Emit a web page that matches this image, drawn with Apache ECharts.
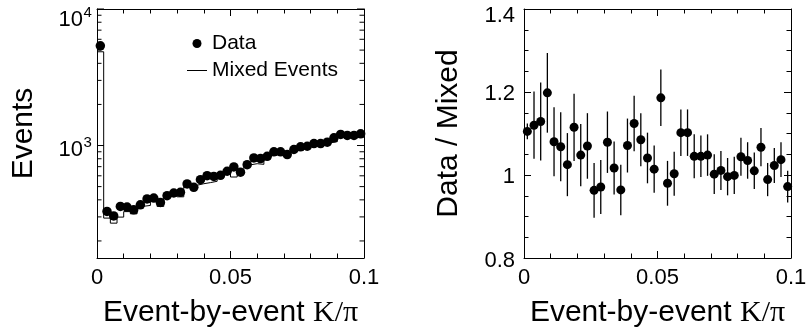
<!DOCTYPE html>
<html>
<head>
<meta charset="utf-8">
<script src="https://cdn.jsdelivr.net/npm/echarts@6/dist/echarts.min.js"></script>
<style>
  html, body { margin: 0; padding: 0; background: #fff; }
  #chart { width: 809px; height: 329px; }
</style>
</head>
<body>
<div id="chart"></div>
<script>
// Bin centres of the event-by-event K/pi histogram (bin width 0.0025)
const binCenters = [
  0.00125, 0.00375, 0.00625, 0.00875, 0.01125, 0.01375, 0.01625, 0.01875,
  0.02125, 0.02375, 0.02625, 0.02875, 0.03125, 0.03375, 0.03625, 0.03875,
  0.04125, 0.04375, 0.04625, 0.04875, 0.05125, 0.05375, 0.05625, 0.05875,
  0.06125, 0.06375, 0.06625, 0.06875, 0.07125, 0.07375, 0.07625, 0.07875,
  0.08125, 0.08375, 0.08625, 0.08875, 0.09125, 0.09375, 0.09625, 0.09875
];

// Real events per bin
const dataCounts = [
  5370, 329, 305, 358, 354, 338, 368, 406, 412, 383,
  429, 449, 454, 523, 494, 562, 601, 594, 605, 648,
  697, 637, 724, 811, 802, 834, 899, 899, 859, 935,
  978, 988, 1034, 1034, 1058, 1139, 1205, 1185, 1185, 1219
];

// Mixed-event reference per bin
const mixedCounts = [
  4860, 294, 270, 299, 328, 316, 359, 364, 393, 358,
  445, 462, 421, 514, 512, 525, 535, 547, 581, 639,
  588, 650, 722, 736, 728, 798, 860, 858, 857, 925,
  982, 989, 990, 999, 1048, 1067, 1218, 1158, 1143, 1254
];

// Data / Mixed ratio and its statistical uncertainty
const ratio = [
  1.105, 1.120, 1.129, 1.198, 1.080, 1.068, 1.025, 1.115, 1.048, 1.070,
  0.963, 0.971, 1.079, 1.017, 0.964, 1.071, 1.124, 1.085, 1.041, 1.014,
  1.186, 0.980, 1.003, 1.102, 1.102, 1.045, 1.045, 1.048, 1.002, 1.011,
  0.996, 0.999, 1.044, 1.035, 1.010, 1.067, 0.989, 1.023, 1.037, 0.972
];
const ratioErr = [
  0.019, 0.081, 0.094, 0.096, 0.083, 0.083, 0.076, 0.081, 0.075, 0.079,
  0.066, 0.065, 0.074, 0.064, 0.061, 0.065, 0.067, 0.064, 0.061, 0.057,
  0.068, 0.054, 0.053, 0.056, 0.056, 0.053, 0.050, 0.050, 0.048, 0.047,
  0.045, 0.045, 0.046, 0.044, 0.044, 0.046, 0.040, 0.042, 0.042, 0.038
];

// Axis ranges and labelled ticks
const xRange = [0, 0.1];
const xTickStep = 0.05;
const countRange = [150, 10000];
const countLabels = [1000, 10000];
const ratioRange = [0.8, 1.4];
const ratioTickStep = 0.2;

const SANS = '"Liberation Sans", Arial, Helvetica, sans-serif';
const SERIF = '"Liberation Serif", "Times New Roman", serif';

// Log-axis tick positions: 2..9 x 10^k minors plus the decades themselves
const logTicks = [];
for (let d = 100; d <= countRange[1]; d *= 10) {
  for (let k = 1; k <= 9; k++) {
    const v = k * d;
    if (v >= countRange[0] && v <= countRange[1]) logTicks.push({ v, major: k === 1 });
  }
}

const halfBin = (binCenters[1] - binCenters[0]) / 2;
const histLine = binCenters.map((c, i) => [c - halfBin, mixedCounts[i]]);
histLine.push([binCenters[binCenters.length - 1] + halfBin, mixedCounts[mixedCounts.length - 1]]);

const xTitle = {
  name: '{a|Event-by-event }{b|K/\u03c0}',
  nameLocation: 'middle',
  nameGap: 40,
  nameTextStyle: {
    color: '#000',
    rich: {
      a: { fontSize: 30, fontFamily: SANS, color: '#000' },
      b: { fontSize: 30, fontFamily: SERIF, color: '#000' }
    }
  }
};

function xAxisPair(gridIndex) {
  const common = {
    type: 'value', gridIndex, min: xRange[0], max: xRange[1], interval: xTickStep,
    axisLine: { show: true, onZero: false, lineStyle: { color: '#000', width: 1 } },
    axisTick: { show: true, inside: true, length: 7, lineStyle: { color: '#000', width: 1 } },
    minorTick: { show: true, splitNumber: 5, length: 4.5, lineStyle: { color: '#000', width: 1 } },
    splitLine: { show: false }
  };
  return [
    Object.assign({}, common, xTitle, {
      position: 'bottom',
      axisLabel: { show: true, fontSize: 22, fontFamily: SANS, color: '#000', margin: 9 }
    }),
    Object.assign({}, common, { position: 'top', axisLabel: { show: false } })
  ];
}

const frameLine = { show: true, onZero: false, lineStyle: { color: '#000', width: 1 } };

const option = {
  animation: false,
  backgroundColor: '#fff',
  textStyle: { fontFamily: SANS, color: '#000' },
  grid: [
    { left: 97, top: 9, width: 267, height: 249, containLabel: false, outerBoundsMode: 'none' },
    { left: 524, top: 9, width: 267, height: 249, containLabel: false, outerBoundsMode: 'none' }
  ],
  legend: {
    orient: 'vertical',
    left: 187,
    top: 33,
    padding: 0,
    itemWidth: 20,
    itemHeight: 9,
    itemGap: 6,
    selectedMode: false,
    textStyle: { fontSize: 21, fontFamily: SANS, color: '#000' },
    data: [
      { name: 'Data', icon: 'circle' },
      { name: 'Mixed Events', icon: 'path://M0,0H20V1H0Z' }
    ]
  },
  xAxis: [].concat(xAxisPair(0), xAxisPair(1)),
  yAxis: [
    {
      type: 'log', gridIndex: 0, logBase: 10, min: countRange[0], max: countRange[1],
      position: 'left',
      axisLine: frameLine, axisTick: { show: false }, axisLabel: { show: false },
      splitLine: { show: false },
      name: 'Events', nameLocation: 'middle', nameGap: 58,
      nameTextStyle: { fontSize: 30, fontFamily: SANS, color: '#000' }
    },
    {
      type: 'log', gridIndex: 0, logBase: 10, min: countRange[0], max: countRange[1],
      position: 'right',
      axisLine: frameLine, axisTick: { show: false }, axisLabel: { show: false },
      splitLine: { show: false }
    },
    {
      type: 'value', gridIndex: 1, min: ratioRange[0], max: ratioRange[1], interval: ratioTickStep,
      position: 'left',
      axisLine: frameLine,
      axisTick: { show: true, inside: true, length: 7, lineStyle: { color: '#000', width: 1 } },
      minorTick: { show: true, splitNumber: 4, length: 4.5, lineStyle: { color: '#000', width: 1 } },
      splitLine: { show: false },
      axisLabel: {
        fontSize: 22, fontFamily: SANS, color: '#000', margin: 9,
        formatter: function (v) {
          const s = String(+v.toFixed(2));
          if (Math.abs(v - ratioRange[1]) < 1e-6) return '{top|' + s + '}';
          if (Math.abs(v - ratioRange[0]) < 1e-6) return '{bot|' + s + '}';
          return '{mid|' + s + '}';
        },
        rich: {
          top: { fontSize: 22, fontFamily: SANS, color: '#000', padding: [14, 0, 0, 0] },
          mid: { fontSize: 22, fontFamily: SANS, color: '#000', padding: [3, 0, 0, 0] },
          bot: { fontSize: 22, fontFamily: SANS, color: '#000', padding: [6, 0, 0, 0] }
        }
      },
      name: 'Data / Mixed', nameLocation: 'middle', nameGap: 60,
      nameTextStyle: { fontSize: 30, fontFamily: SANS, color: '#000' }
    },
    {
      type: 'value', gridIndex: 1, min: ratioRange[0], max: ratioRange[1], interval: ratioTickStep,
      position: 'right',
      axisLine: frameLine,
      axisTick: { show: true, inside: true, length: 7, lineStyle: { color: '#000', width: 1 } },
      minorTick: { show: true, splitNumber: 4, length: 4.5, lineStyle: { color: '#000', width: 1 } },
      splitLine: { show: false },
      axisLabel: { show: false }
    }
  ],
  series: [
    {
      name: 'Mixed Events',
      type: 'line',
      xAxisIndex: 0, yAxisIndex: 0,
      step: 'end',
      symbol: 'none',
      symbolKeepAspect: true,
      lineStyle: { color: '#000', width: 1 },
      itemStyle: { color: '#000', opacity: 1 },
      data: histLine,
      z: 2
    },
    {
      name: 'Data',
      type: 'scatter',
      xAxisIndex: 0, yAxisIndex: 0,
      symbol: 'circle',
      symbolSize: 9.5,
      itemStyle: { color: '#000', opacity: 1 },
      data: binCenters.map((c, i) => [c, dataCounts[i]]),
      z: 3
    },
    {
      // log-axis ticks on both vertical frame edges
      type: 'custom',
      xAxisIndex: 0, yAxisIndex: 0,
      silent: true,
      clip: false,
      data: logTicks.map(t => [xRange[0], t.v, t.major ? 1 : 0]),
      renderItem: function (params, api) {
        const v = api.value(1);
        const len = api.value(2) ? 7 : 4.5;
        const l = api.coord([xRange[0], v]);
        const r = api.coord([xRange[1], v]);
        const st = { stroke: '#000', lineWidth: 1 };
        return {
          type: 'group',
          children: [
            { type: 'line', shape: { x1: l[0], y1: l[1], x2: l[0] + len, y2: l[1] }, style: st },
            { type: 'line', shape: { x1: r[0], y1: r[1], x2: r[0] - len, y2: r[1] }, style: st }
          ]
        };
      },
      z: 4
    },
    {
      // decade labels 10^n on the log axis
      type: 'custom',
      xAxisIndex: 0, yAxisIndex: 0,
      silent: true,
      clip: false,
      data: countLabels.map(v => [xRange[0], v]),
      renderItem: function (params, api) {
        const v = api.value(1);
        const p = api.coord([xRange[0], v]);
        const exp = Math.round(Math.log10(v));
        const x = p[0] - 14;
        const y = p[1] + (v >= countRange[1] ? 7 : 0);
        return {
          type: 'group',
          children: [
            { type: 'text', x: x, y: y + 4,
              style: { text: '10', fontSize: 22, fontFamily: SANS, fill: '#000', align: 'right', verticalAlign: 'middle' } },
            { type: 'text', x: x + 0.5, y: y - 3,
              style: { text: String(exp), fontSize: 15, fontFamily: SANS, fill: '#000', align: 'left', verticalAlign: 'middle' } }
          ]
        };
      },
      z: 4
    },
    {
      // ratio uncertainties
      type: 'custom',
      xAxisIndex: 2, yAxisIndex: 2,
      silent: true,
      data: binCenters.map((c, i) => [c, ratio[i] - ratioErr[i], ratio[i] + ratioErr[i]]),
      renderItem: function (params, api) {
        const lo = api.coord([api.value(0), api.value(1)]);
        const hi = api.coord([api.value(0), api.value(2)]);
        return {
          type: 'line',
          shape: { x1: lo[0], y1: lo[1], x2: hi[0], y2: hi[1] },
          style: { stroke: '#000', lineWidth: 1.3 }
        };
      },
      z: 2
    },
    {
      name: 'Ratio',
      type: 'scatter',
      xAxisIndex: 2, yAxisIndex: 2,
      symbol: 'circle',
      symbolSize: 9,
      itemStyle: { color: '#000', opacity: 1 },
      data: binCenters.map((c, i) => [c, ratio[i]]),
      z: 3
    }
  ]
};

const chart = echarts.init(document.getElementById('chart'), null, { renderer: 'canvas' });
chart.setOption(option);
</script>
</body>
</html>
